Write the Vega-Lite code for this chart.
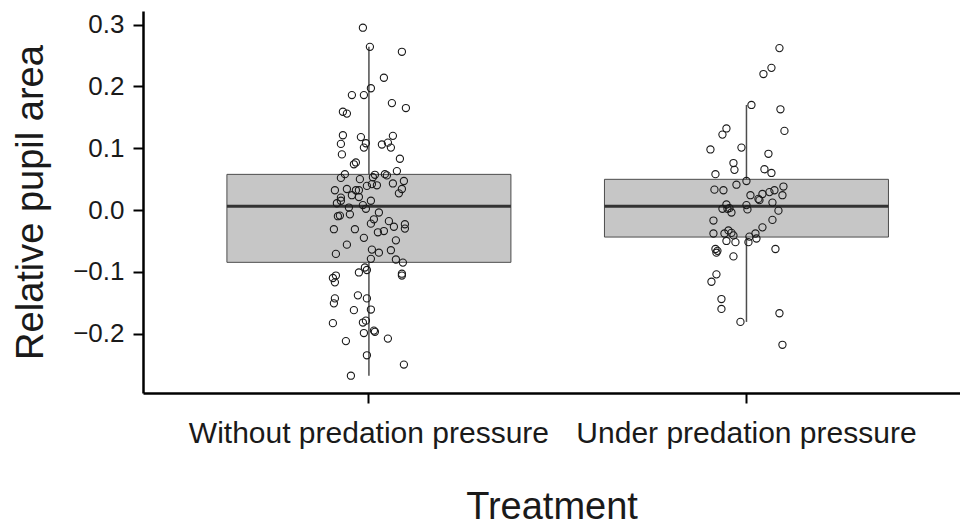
{
  "$schema": "https://vega.github.io/schema/vega-lite/v6.json",
  "autosize": {"type": "none"},
  "width": 817,
  "height": 382,
  "padding": {"left": 143, "top": 11, "right": 0, "bottom": 133},
  "background": "white",
  "config": {
    "view": {"stroke": null},
    "font": "Liberation Sans",
    "axis": {"grid": false, "domainColor": "black", "domainWidth": 2.5, "tickColor": "black", "tickWidth": 2, "tickSize": 10, "labelColor": "#1a1a1a", "titleColor": "#1a1a1a", "titleFontWeight": "normal", "labelFont": "Liberation Sans", "titleFont": "Liberation Sans", "labelLimit": 0}
  },
  "datasets": {
    "box": [
      {"group": "Without predation pressure", "lo": -0.268, "q1": -0.0846, "med": 0.006, "q3": 0.0577, "hi": 0.264},
      {"group": "Under predation pressure", "lo": -0.181, "q1": -0.0437, "med": 0.006, "q3": 0.0497, "hi": 0.170}
    ],
    "pts": [
      {"group": "Without predation pressure", "jitter": -0.06, "value": 0.295},
      {"group": "Without predation pressure", "jitter": 0.01, "value": 0.264},
      {"group": "Without predation pressure", "jitter": 0.33, "value": 0.256},
      {"group": "Without predation pressure", "jitter": 0.15, "value": 0.214},
      {"group": "Without predation pressure", "jitter": 0.02, "value": 0.197},
      {"group": "Without predation pressure", "jitter": -0.17, "value": 0.186},
      {"group": "Without predation pressure", "jitter": -0.05, "value": 0.186},
      {"group": "Without predation pressure", "jitter": 0.23, "value": 0.173},
      {"group": "Without predation pressure", "jitter": 0.37, "value": 0.165},
      {"group": "Without predation pressure", "jitter": -0.26, "value": 0.159},
      {"group": "Without predation pressure", "jitter": -0.22, "value": 0.156},
      {"group": "Without predation pressure", "jitter": -0.26, "value": 0.121},
      {"group": "Without predation pressure", "jitter": -0.08, "value": 0.118},
      {"group": "Without predation pressure", "jitter": 0.24, "value": 0.120},
      {"group": "Without predation pressure", "jitter": -0.03, "value": 0.108},
      {"group": "Without predation pressure", "jitter": -0.05, "value": 0.101},
      {"group": "Without predation pressure", "jitter": -0.28, "value": 0.107},
      {"group": "Without predation pressure", "jitter": 0.13, "value": 0.106},
      {"group": "Without predation pressure", "jitter": 0.19, "value": 0.109},
      {"group": "Without predation pressure", "jitter": 0.22, "value": 0.101},
      {"group": "Without predation pressure", "jitter": -0.27, "value": 0.090},
      {"group": "Without predation pressure", "jitter": 0.31, "value": 0.083},
      {"group": "Without predation pressure", "jitter": -0.15, "value": 0.074},
      {"group": "Without predation pressure", "jitter": -0.13, "value": 0.077},
      {"group": "Without predation pressure", "jitter": 0.28, "value": 0.063},
      {"group": "Without predation pressure", "jitter": -0.24, "value": 0.058},
      {"group": "Without predation pressure", "jitter": -0.28, "value": 0.052},
      {"group": "Without predation pressure", "jitter": -0.09, "value": 0.050},
      {"group": "Without predation pressure", "jitter": 0.06, "value": 0.057},
      {"group": "Without predation pressure", "jitter": 0.04, "value": 0.053},
      {"group": "Without predation pressure", "jitter": 0.16, "value": 0.058},
      {"group": "Without predation pressure", "jitter": 0.18, "value": 0.056},
      {"group": "Without predation pressure", "jitter": 0.35, "value": 0.047},
      {"group": "Without predation pressure", "jitter": -0.34, "value": 0.032},
      {"group": "Without predation pressure", "jitter": -0.22, "value": 0.034},
      {"group": "Without predation pressure", "jitter": -0.13, "value": 0.032},
      {"group": "Without predation pressure", "jitter": -0.10, "value": 0.032},
      {"group": "Without predation pressure", "jitter": -0.02, "value": 0.039},
      {"group": "Without predation pressure", "jitter": 0.03, "value": 0.042},
      {"group": "Without predation pressure", "jitter": 0.08, "value": 0.040},
      {"group": "Without predation pressure", "jitter": 0.24, "value": 0.043},
      {"group": "Without predation pressure", "jitter": 0.33, "value": 0.034},
      {"group": "Without predation pressure", "jitter": 0.30, "value": 0.027},
      {"group": "Without predation pressure", "jitter": -0.28, "value": 0.020},
      {"group": "Without predation pressure", "jitter": -0.17, "value": 0.024},
      {"group": "Without predation pressure", "jitter": -0.10, "value": 0.021},
      {"group": "Without predation pressure", "jitter": -0.28, "value": 0.015},
      {"group": "Without predation pressure", "jitter": -0.32, "value": 0.011},
      {"group": "Without predation pressure", "jitter": 0.02, "value": 0.015},
      {"group": "Without predation pressure", "jitter": -0.06, "value": 0.008},
      {"group": "Without predation pressure", "jitter": -0.03, "value": 0.002},
      {"group": "Without predation pressure", "jitter": -0.20, "value": 0.004},
      {"group": "Without predation pressure", "jitter": -0.31, "value": -0.010},
      {"group": "Without predation pressure", "jitter": -0.29, "value": -0.009},
      {"group": "Without predation pressure", "jitter": -0.19, "value": -0.007},
      {"group": "Without predation pressure", "jitter": 0.10, "value": -0.004},
      {"group": "Without predation pressure", "jitter": 0.05, "value": -0.015},
      {"group": "Without predation pressure", "jitter": 0.02, "value": -0.022},
      {"group": "Without predation pressure", "jitter": 0.20, "value": -0.018},
      {"group": "Without predation pressure", "jitter": 0.25, "value": -0.027},
      {"group": "Without predation pressure", "jitter": 0.36, "value": -0.023},
      {"group": "Without predation pressure", "jitter": 0.36, "value": -0.030},
      {"group": "Without predation pressure", "jitter": -0.35, "value": -0.031},
      {"group": "Without predation pressure", "jitter": -0.14, "value": -0.031},
      {"group": "Without predation pressure", "jitter": 0.09, "value": -0.036},
      {"group": "Without predation pressure", "jitter": 0.15, "value": -0.034},
      {"group": "Without predation pressure", "jitter": 0.27, "value": -0.049},
      {"group": "Without predation pressure", "jitter": -0.05, "value": -0.045},
      {"group": "Without predation pressure", "jitter": -0.22, "value": -0.056},
      {"group": "Without predation pressure", "jitter": 0.03, "value": -0.064},
      {"group": "Without predation pressure", "jitter": 0.10, "value": -0.069},
      {"group": "Without predation pressure", "jitter": 0.22, "value": -0.065},
      {"group": "Without predation pressure", "jitter": -0.33, "value": -0.071},
      {"group": "Without predation pressure", "jitter": 0.02, "value": -0.079},
      {"group": "Without predation pressure", "jitter": 0.27, "value": -0.080},
      {"group": "Without predation pressure", "jitter": 0.34, "value": -0.085},
      {"group": "Without predation pressure", "jitter": -0.04, "value": -0.093},
      {"group": "Without predation pressure", "jitter": -0.02, "value": -0.097},
      {"group": "Without predation pressure", "jitter": -0.10, "value": -0.101},
      {"group": "Without predation pressure", "jitter": 0.33, "value": -0.103},
      {"group": "Without predation pressure", "jitter": 0.33, "value": -0.106},
      {"group": "Without predation pressure", "jitter": -0.33, "value": -0.106},
      {"group": "Without predation pressure", "jitter": -0.36, "value": -0.110},
      {"group": "Without predation pressure", "jitter": -0.34, "value": -0.117},
      {"group": "Without predation pressure", "jitter": -0.11, "value": -0.138},
      {"group": "Without predation pressure", "jitter": -0.34, "value": -0.143},
      {"group": "Without predation pressure", "jitter": -0.35, "value": -0.151},
      {"group": "Without predation pressure", "jitter": -0.02, "value": -0.143},
      {"group": "Without predation pressure", "jitter": -0.15, "value": -0.162},
      {"group": "Without predation pressure", "jitter": 0.02, "value": -0.161},
      {"group": "Without predation pressure", "jitter": -0.36, "value": -0.183},
      {"group": "Without predation pressure", "jitter": -0.06, "value": -0.182},
      {"group": "Without predation pressure", "jitter": -0.03, "value": -0.179},
      {"group": "Without predation pressure", "jitter": -0.05, "value": -0.199},
      {"group": "Without predation pressure", "jitter": 0.05, "value": -0.195},
      {"group": "Without predation pressure", "jitter": 0.06, "value": -0.197},
      {"group": "Without predation pressure", "jitter": -0.23, "value": -0.212},
      {"group": "Without predation pressure", "jitter": 0.19, "value": -0.208},
      {"group": "Without predation pressure", "jitter": -0.02, "value": -0.235},
      {"group": "Without predation pressure", "jitter": 0.35, "value": -0.250},
      {"group": "Without predation pressure", "jitter": -0.18, "value": -0.268},
      {"group": "Under predation pressure", "jitter": 0.33, "value": 0.262},
      {"group": "Under predation pressure", "jitter": 0.25, "value": 0.230},
      {"group": "Under predation pressure", "jitter": 0.17, "value": 0.220},
      {"group": "Under predation pressure", "jitter": 0.05, "value": 0.170},
      {"group": "Under predation pressure", "jitter": 0.34, "value": 0.163},
      {"group": "Under predation pressure", "jitter": -0.20, "value": 0.132},
      {"group": "Under predation pressure", "jitter": -0.24, "value": 0.122},
      {"group": "Under predation pressure", "jitter": 0.38, "value": 0.128},
      {"group": "Under predation pressure", "jitter": -0.36, "value": 0.098},
      {"group": "Under predation pressure", "jitter": -0.05, "value": 0.101},
      {"group": "Under predation pressure", "jitter": 0.22, "value": 0.091},
      {"group": "Under predation pressure", "jitter": -0.13, "value": 0.076},
      {"group": "Under predation pressure", "jitter": -0.12, "value": 0.065},
      {"group": "Under predation pressure", "jitter": 0.18, "value": 0.066},
      {"group": "Under predation pressure", "jitter": 0.25, "value": 0.060},
      {"group": "Under predation pressure", "jitter": -0.31, "value": 0.058},
      {"group": "Under predation pressure", "jitter": 0.00, "value": 0.047},
      {"group": "Under predation pressure", "jitter": -0.10, "value": 0.041},
      {"group": "Under predation pressure", "jitter": -0.32, "value": 0.033},
      {"group": "Under predation pressure", "jitter": -0.23, "value": 0.032},
      {"group": "Under predation pressure", "jitter": 0.37, "value": 0.038},
      {"group": "Under predation pressure", "jitter": 0.28, "value": 0.032},
      {"group": "Under predation pressure", "jitter": 0.23, "value": 0.029},
      {"group": "Under predation pressure", "jitter": 0.16, "value": 0.026},
      {"group": "Under predation pressure", "jitter": 0.04, "value": 0.024},
      {"group": "Under predation pressure", "jitter": 0.36, "value": 0.024},
      {"group": "Under predation pressure", "jitter": 0.12, "value": 0.018},
      {"group": "Under predation pressure", "jitter": 0.13, "value": 0.016},
      {"group": "Under predation pressure", "jitter": 0.26, "value": 0.012},
      {"group": "Under predation pressure", "jitter": -0.20, "value": 0.009},
      {"group": "Under predation pressure", "jitter": -0.24, "value": 0.002},
      {"group": "Under predation pressure", "jitter": -0.17, "value": 0.003},
      {"group": "Under predation pressure", "jitter": -0.19, "value": 0.002},
      {"group": "Under predation pressure", "jitter": 0.00, "value": 0.008},
      {"group": "Under predation pressure", "jitter": 0.01, "value": 0.001},
      {"group": "Under predation pressure", "jitter": -0.15, "value": -0.004},
      {"group": "Under predation pressure", "jitter": 0.32, "value": -0.001},
      {"group": "Under predation pressure", "jitter": -0.33, "value": -0.017},
      {"group": "Under predation pressure", "jitter": 0.26, "value": -0.016},
      {"group": "Under predation pressure", "jitter": 0.16, "value": -0.028},
      {"group": "Under predation pressure", "jitter": -0.33, "value": -0.038},
      {"group": "Under predation pressure", "jitter": -0.22, "value": -0.038},
      {"group": "Under predation pressure", "jitter": -0.18, "value": -0.033},
      {"group": "Under predation pressure", "jitter": -0.15, "value": -0.037},
      {"group": "Under predation pressure", "jitter": -0.13, "value": -0.041},
      {"group": "Under predation pressure", "jitter": 0.09, "value": -0.038},
      {"group": "Under predation pressure", "jitter": 0.03, "value": -0.043},
      {"group": "Under predation pressure", "jitter": 0.10, "value": -0.046},
      {"group": "Under predation pressure", "jitter": -0.20, "value": -0.050},
      {"group": "Under predation pressure", "jitter": -0.11, "value": -0.052},
      {"group": "Under predation pressure", "jitter": 0.02, "value": -0.052},
      {"group": "Under predation pressure", "jitter": -0.31, "value": -0.063},
      {"group": "Under predation pressure", "jitter": -0.29, "value": -0.066},
      {"group": "Under predation pressure", "jitter": -0.30, "value": -0.069},
      {"group": "Under predation pressure", "jitter": 0.29, "value": -0.063},
      {"group": "Under predation pressure", "jitter": -0.13, "value": -0.075},
      {"group": "Under predation pressure", "jitter": -0.30, "value": -0.104},
      {"group": "Under predation pressure", "jitter": -0.35, "value": -0.116},
      {"group": "Under predation pressure", "jitter": -0.25, "value": -0.144},
      {"group": "Under predation pressure", "jitter": -0.25, "value": -0.160},
      {"group": "Under predation pressure", "jitter": 0.33, "value": -0.167},
      {"group": "Under predation pressure", "jitter": -0.06, "value": -0.181},
      {"group": "Under predation pressure", "jitter": 0.36, "value": -0.218}
    ]
  },
  "encoding": {
    "x": {
      "field": "group", "type": "nominal",
      "scale": {"domain": ["Without predation pressure", "Under predation pressure"], "paddingInner": 0, "paddingOuter": 0.082, "align": 0.6},
      "axis": {"title": "Treatment", "labelAngle": 0, "labelFontSize": 30, "labelPadding": 15, "titleFontSize": 38, "titlePadding": 40, "domainWidth": 2.5}
    }
  },
  "layer": [
    {
      "data": {"name": "box"},
      "mark": {"type": "rule", "color": "#4d4d4d", "strokeWidth": 1.5},
      "encoding": {
        "y": {"field": "lo", "type": "quantitative", "scale": {"domain": [-0.296, 0.322], "nice": false, "zero": false},
          "axis": {"title": "Relative pupil area", "values": [-0.2, -0.1, 0, 0.1, 0.2, 0.3], "format": ".1f", "labelFontSize": 26, "labelPadding": 9, "titleFontSize": 38, "titlePadding": 22}},
        "y2": {"field": "hi"}
      }
    },
    {
      "data": {"name": "box"},
      "mark": {"type": "bar", "size": 284, "fill": "#c6c6c6", "stroke": "#4d4d4d", "strokeWidth": 1, "opacity": 1},
      "encoding": {
        "y": {"field": "q1", "type": "quantitative"},
        "y2": {"field": "q3"}
      }
    },
    {
      "data": {"name": "box"},
      "mark": {"type": "tick", "orient": "horizontal", "size": 284, "thickness": 3, "color": "#333333", "opacity": 1},
      "encoding": {
        "y": {"field": "med", "type": "quantitative"}
      }
    },
    {
      "data": {"name": "pts"},
      "mark": {"type": "point", "shape": "circle", "filled": false, "stroke": "#1a1a1a", "strokeWidth": 1.1, "size": 52, "opacity": 1},
      "encoding": {
        "y": {"field": "value", "type": "quantitative"},
        "xOffset": {"field": "jitter", "type": "quantitative", "scale": {"domain": [-1, 1], "range": [88.75, 288.75]}}
      }
    }
  ]
}
